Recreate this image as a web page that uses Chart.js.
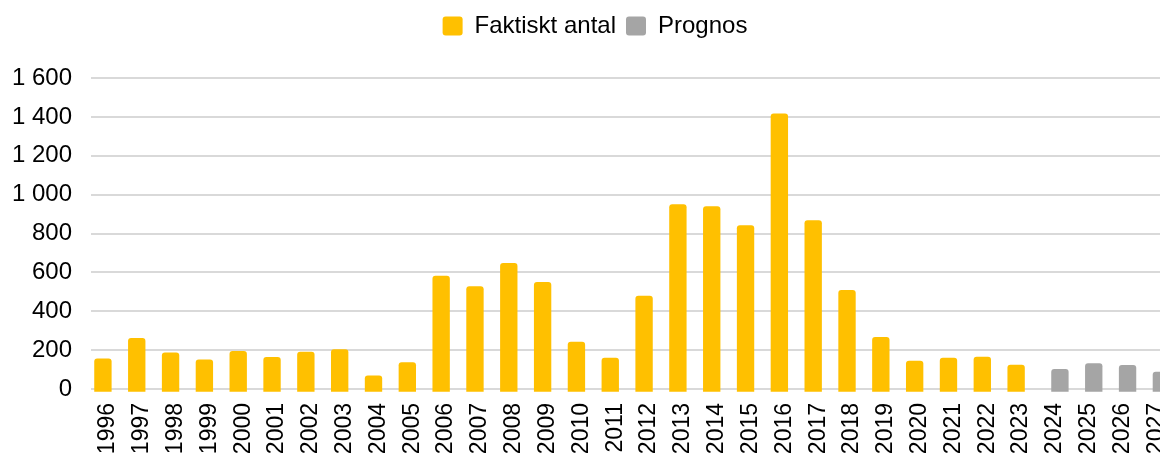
<!DOCTYPE html>
<html>
<head>
<meta charset="utf-8">
<script src="https://cdn.jsdelivr.net/npm/chart.js@4/dist/chart.umd.min.js"></script>
<style>
  html, body { margin: 0; padding: 0; background: #fff; overflow: hidden; }
  #wrap { position: relative; width: 1190px; height: 455px; }
</style>
</head>
<body>
<div id="wrap"><canvas id="chart"></canvas></div>
<script>
// years on the x axis
const years = ["1996","1997","1998","1999","2000","2001","2002","2003","2004","2005",
  "2006","2007","2008","2009","2010","2011","2012","2013","2014","2015","2016","2017",
  "2018","2019","2020","2021","2022","2023","2024","2025","2026","2027"];

// actual numbers 1996-2023 (null for forecast years)
const faktiskt = [157, 263, 188, 152, 195, 164, 191, 205, 70, 138,
  583, 528, 648, 550, 243, 161, 480, 950, 940, 843, 1417, 868,
  509, 268, 145, 161, 166, 125, null, null, null, null];

// forecast 2024-2027
const prognos = [null, null, null, null, null, null, null, null, null, null,
  null, null, null, null, null, null, null, null, null, null, null, null,
  null, null, null, null, null, null, 103, 133, 123, 89];

const yTicks = [0, 200, 400, 600, 800, 1000, 1200, 1400, 1600];

const fmt = v => String(v).replace(/\B(?=(\d{3})+(?!\d))/g, " ");
const font = { family: "'Liberation Sans', Arial, sans-serif", size: 24 };

// extra room under the legend
const legendGap = {
  id: "legendGap",
  beforeInit(chart) {
    const fit = chart.legend.fit;
    chart.legend.fit = function () {
      fit.bind(chart.legend)();
      this.height += 30;
    };
  }
};

const barOpts = {
  categoryPercentage: 0.59,
  barPercentage: 1.74,
  borderRadius: { topLeft: 3, topRight: 3 },
  borderSkipped: "start",
  base: -14,
  clip: false
};

new Chart(document.getElementById("chart"), {
  type: "bar",
  data: {
    labels: years,
    datasets: [
      Object.assign({ label: "Faktiskt antal", data: faktiskt, backgroundColor: "#FFC000" }, barOpts),
      Object.assign({ label: "Prognos", data: prognos, backgroundColor: "#A5A5A5" }, barOpts)
    ]
  },
  options: {
    responsive: true,
    maintainAspectRatio: false,
    animation: false,
    layout: { padding: { left: 0, right: 0, top: 4, bottom: 0 } },
    plugins: {
      legend: {
        position: "top",
        labels: {
          boxWidth: 20,
          boxHeight: 19,
          padding: 10,
          color: "#000",
          font: font,
          useBorderRadius: true,
          borderRadius: 3
        }
      },
      tooltip: { enabled: false }
    },
    scales: {
      x: {
        grid: { display: false },
        border: { display: false },
        afterFit: axis => { axis.height = 66; },
        ticks: {
          color: "#000",
          minRotation: 90,
          maxRotation: 90,
          autoSkip: false,
          padding: 6,
          font: { family: font.family, size: 23 }
        }
      },
      y: {
        min: 0,
        max: 1600,
        afterBuildTicks: axis => { axis.ticks = yTicks.map(v => ({ value: v })); },
        afterFit: axis => { axis.width = 91; },
        grid: { color: "#d9d9d9", lineWidth: 2, drawTicks: false },
        border: { display: false },
        ticks: {
          color: "#000",
          padding: 19,
          callback: v => fmt(v),
          font: font
        }
      }
    }
  },
  plugins: [legendGap]
});
</script>
</body>
</html>
